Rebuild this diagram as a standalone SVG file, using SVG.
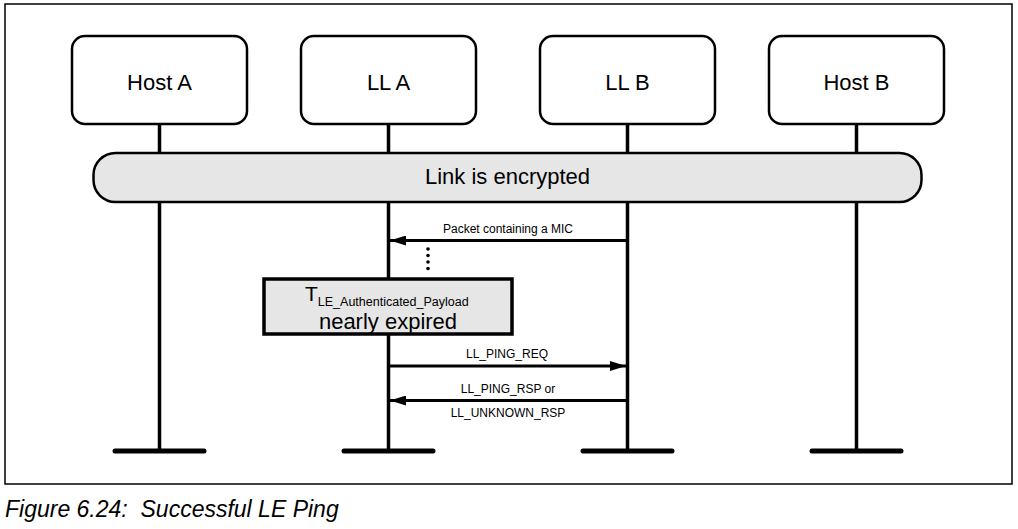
<svg xmlns="http://www.w3.org/2000/svg" width="1018" height="529" viewBox="0 0 1018 529">
<defs>
<style>
.box{fill:#fff;stroke:#000;stroke-width:2.5}
.lbl{font-family:"Liberation Sans",Arial,sans-serif;font-size:22px;fill:#000;text-anchor:middle}
.life{stroke:#000;stroke-width:3.5;fill:none}
.foot{stroke:#000;stroke-width:5;stroke-linecap:round}
.msg{stroke:#000;stroke-width:3;fill:none}
.mtxt{font-family:"Liberation Sans",Arial,sans-serif;font-size:12px;fill:#000;text-anchor:middle}
</style>
<marker id="ah" viewBox="0 0 16 10" refX="16" refY="5" markerWidth="16" markerHeight="10" markerUnits="userSpaceOnUse" orient="auto">
<path d="M0,0 L16,5 L0,10 Z" fill="#000"/>
</marker>
</defs>
<rect width="1018" height="529" fill="#fff"/>
<rect x="5" y="4" width="1007" height="480" fill="none" stroke="#000" stroke-width="1.5"/>

<g id="lifelines">
<line class="life" x1="159.5" y1="124" x2="159.5" y2="451"/>
<line class="life" x1="388.5" y1="124" x2="388.5" y2="451"/>
<line class="life" x1="627.5" y1="124" x2="627.5" y2="451"/>
<line class="life" x1="856.5" y1="124" x2="856.5" y2="451"/>
<line class="foot" x1="115" y1="451" x2="204" y2="451"/>
<line class="foot" x1="344" y1="451" x2="433" y2="451"/>
<line class="foot" x1="583" y1="451" x2="672" y2="451"/>
<line class="foot" x1="812" y1="451" x2="901" y2="451"/>
</g>

<g id="hostA"><rect class="box" x="72" y="36" width="175" height="88" rx="13"/><text class="lbl" x="159.5" y="90">Host A</text></g>
<g id="llA"><rect class="box" x="301" y="36" width="175" height="88" rx="13"/><text class="lbl" x="388.5" y="90">LL A</text></g>
<g id="llB"><rect class="box" x="540" y="36" width="175" height="88" rx="13"/><text class="lbl" x="627.5" y="90">LL B</text></g>
<g id="hostB"><rect class="box" x="769" y="36" width="175" height="88" rx="13"/><text class="lbl" x="856.5" y="90">Host B</text></g>

<g id="encrypted"><rect x="93.5" y="153" width="828" height="49" rx="22" fill="#e6e6e6" stroke="#000" stroke-width="2.5"/><text class="lbl" x="507.5" y="184">Link is encrypted</text></g>

<g id="connectors">
<line class="msg" x1="627.5" y1="240.5" x2="390" y2="240.5" marker-end="url(#ah)"/>
<text class="mtxt" x="508" y="233">Packet containing a MIC</text>
<line class="msg" x1="388.5" y1="366" x2="626" y2="366" marker-end="url(#ah)"/>
<text class="mtxt" x="507" y="358">LL_PING_REQ</text>
<line class="msg" x1="627.5" y1="400.5" x2="390" y2="400.5" marker-end="url(#ah)"/>
<text class="mtxt" x="508" y="393">LL_PING_RSP or</text>
<text class="mtxt" x="508" y="417">LL_UNKNOWN_RSP</text>
</g>

<g id="dots" fill="#000">
<circle cx="428" cy="249" r="1.8"/><circle cx="428" cy="255.5" r="1.8"/><circle cx="428" cy="262" r="1.8"/><circle cx="428" cy="268.5" r="1.8"/>
</g>

<g id="timer">
<rect x="264" y="279" width="248" height="55" fill="#e6e6e6" stroke="#000" stroke-width="3.5"/>
<text font-family="&quot;Liberation Sans&quot;,Arial,sans-serif" fill="#000"><tspan x="305" y="301" font-size="21px">T</tspan><tspan font-size="12.5px" dy="4.5">LE_Authenticated_Payload</tspan></text>
<text class="lbl" x="388" y="329">nearly expired</text>
</g>

<text x="5" y="517" font-family="&quot;Liberation Sans&quot;,Arial,sans-serif" font-style="italic" font-size="23px" fill="#000" xml:space="preserve">Figure 6.24:  Successful LE Ping</text>
</svg>
